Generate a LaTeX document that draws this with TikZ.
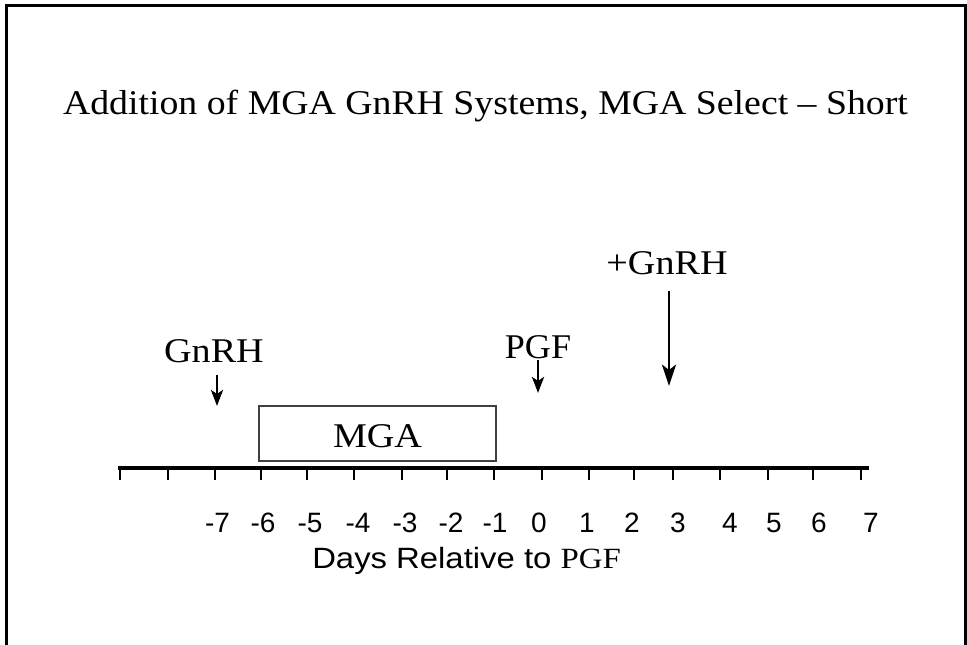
\documentclass[tikz,border=0pt]{standalone}
\usepackage{fontspec}
\setmainfont{Liberation Serif}
\newfontfamily\arialf{Liberation Sans}
\usetikzlibrary{arrows.meta}
\tikzset{
  frameline/.style={line width=1.6pt, line cap=butt},
  axisline/.style={line width=2.6pt},
  tickline/.style={line width=2.2pt},
  arr/.style={line width=2.2pt, -{Stealth[length=12pt,width=9pt,inset=3pt]}},
  bigarr/.style={line width=2.2pt, -{Stealth[length=16pt,width=10.5pt,inset=4pt]}},
  serif/.style={inner sep=0pt, anchor=base, font=\fontsize{26}{30}\selectfont},
  num/.style={inner sep=0pt, anchor=base, font=\arialf\fontsize{21}{24}\selectfont},
  mgabox/.style={draw=black!75, line width=0.8pt, inner sep=0pt}
}
\newcommand{\widetxt}[1]{\scalebox{1.1}[1]{#1}}
\begin{document}
\begin{tikzpicture}[x=0.75pt,y=-0.75pt]
\useasboundingbox (0,0) rectangle (967,645);
\fill[white] (0,0) rectangle (967,645);
% frame
\draw[frameline] (6.5,645) -- (6.5,5.5) -- (965.5,5.5) -- (965.5,645);
% title
\node[serif] (title) at (485.5,115) {\scalebox{1.09}[1]{Addition of MGA GnRH Systems, MGA Select -- Short}};
% axis
\coordinate (axL) at (118,468);
\coordinate (axR) at (869,468);
\draw[axisline] (axL) -- (axR);
\foreach \x in {120,168,215,261,307,354,402,447,494,542,589,634,673,720,768,813,861}
  \draw[tickline] (\x,468) -- (\x,480);
% numbers
\foreach \x/\t in {217.5/-7,263/-6,310/-5,358/-4,405/-3,451/-2,495/-1,539/0,587/1,632/2,678/3,730/4,774/5,819/6,871/7}
  \node[num] at (\x,532) {\t};
\node[inner sep=0pt, anchor=base west] (xlabel) at (312,568) {\scalebox{1.12}[1]{\arialf\fontsize{22}{24}\selectfont Days Relative to \rmfamily PGF}};
% MGA box
\node[mgabox, minimum width=237*0.75pt, minimum height=55*0.75pt] (mga) at (377.5,433.5) {};
\node[serif] (mgat) at (377.5,447) {\widetxt{MGA}};
% GnRH
\node[serif] (gnrh) at (214,362) {\widetxt{GnRH}};
\coordinate (gnrhS) at (217,375);
\coordinate (gnrhE) at (217,406);
\draw[arr] (gnrhS) -- (gnrhE);
% PGF
\node[serif] (pgf) at (538,358) {\scalebox{1.04}[1]{PGF}};
\coordinate (pgfS) at (538,360);
\coordinate (pgfE) at (538,393);
\draw[arr] (pgfS) -- (pgfE);
% +GnRH
\node[serif] (pgnrh) at (667,275) {\widetxt{+GnRH}};
\coordinate (pgS) at (669,291);
\coordinate (pgE) at (669,386);
\draw[bigarr] (pgS) -- (pgE);
\end{tikzpicture}
\end{document}
